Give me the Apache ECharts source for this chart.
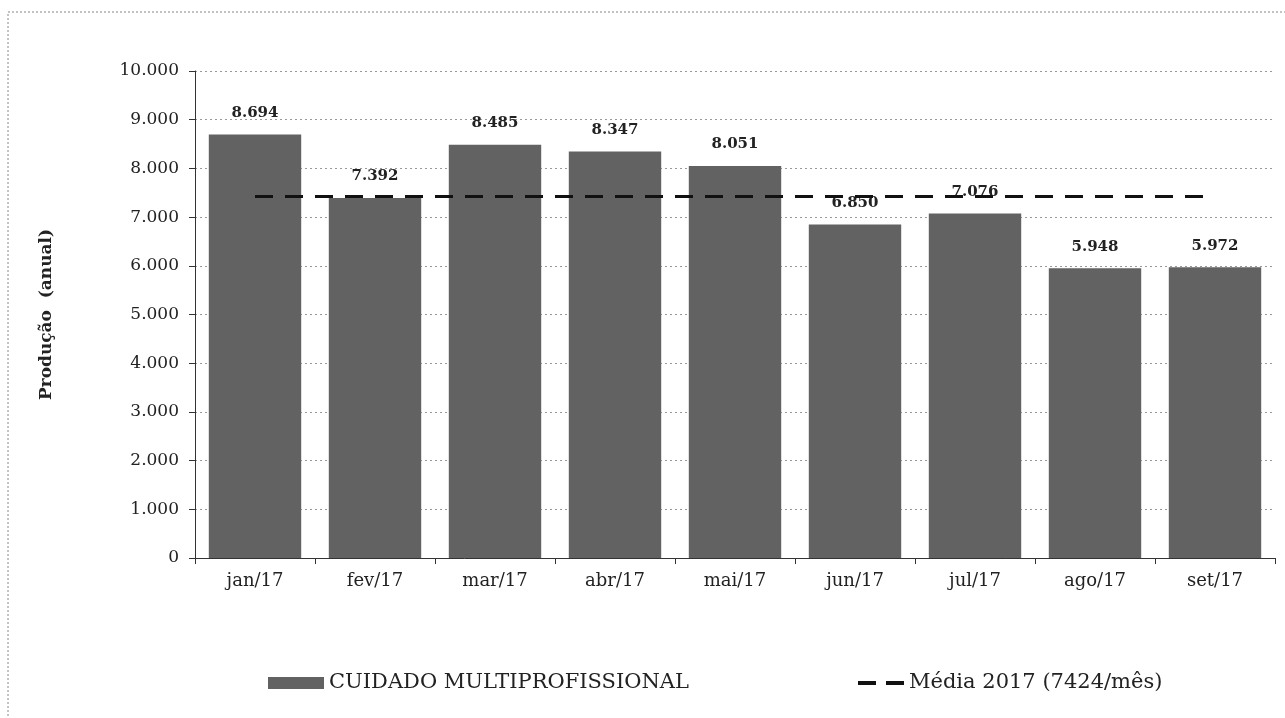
<!DOCTYPE html>
<html><head><meta charset="utf-8">
<script src="https://cdn.jsdelivr.net/npm/echarts@6/dist/echarts.min.js"></script>
<style>html,body{margin:0;padding:0;background:#fff}#c{width:1285px;height:718px}</style>
</head><body><div id="c"></div>
<script>
const categories = ['jan/17','fev/17','mar/17','abr/17','mai/17','jun/17','jul/17','ago/17','set/17'];
const producao = [8694, 7392, 8485, 8347, 8051, 6850, 7076, 5948, 5972];
const media = [7424, 7424, 7424, 7424, 7424, 7424, 7424, 7424, 7424];
const barName = 'CUIDADO MULTIPROFISSIONAL';
const lineName = 'Média 2017 (7424/mês)';
const yName = 'Produção  (anual)';

function fmt(v){ return String(v).replace(/\B(?=(\d{3})+(?!\d))/g, '.'); }
const serif = '"DejaVu Serif", "Liberation Serif", serif';
const chart = echarts.init(document.getElementById('c'));
chart.setOption({
  animation: false,
  backgroundColor: '#fff',
  textStyle: { fontFamily: serif },
  graphic: [{ type: 'rect', shape: { x: 8, y: 12, width: 1290, height: 730 }, style: { fill: 'none', stroke: '#888', lineWidth: 1, lineDash: [2, 2] }, silent: true }],
  grid: { left: 195, right: 10, top: 71, bottom: 160 },
  legend: [
    {
      top: 670, left: 268, itemWidth: 56, itemHeight: 12, itemGap: 8, padding: 0,
      textStyle: { fontFamily: serif, fontSize: 21, color: '#222', lineHeight: 26 },
      data: [{ name: barName, icon: 'rect' }]
    },
    {
      top: 670, left: 858, itemWidth: 46, itemHeight: 4, itemGap: 8, padding: 0,
      textStyle: { fontFamily: serif, fontSize: 21, color: '#222', lineHeight: 26 },
      data: [{ name: lineName, icon: 'path://M0,0H18V4H0Z M28,0H46V4H28Z' }]
    }
  ],
  xAxis: {
    type: 'category', data: categories,
    axisLine: { lineStyle: { color: '#333', width: 1 } },
    axisTick: { show: true, length: 6, lineStyle: { color: '#333' } },
    axisLabel: { fontFamily: serif, fontSize: 18, color: '#222', margin: 14 }
  },
  yAxis: {
    type: 'value', min: 0, max: 10000, interval: 1000,
    name: yName, nameLocation: 'middle', nameGap: 140, nameRotate: 90,
    nameTextStyle: { fontFamily: serif, fontSize: 17, fontWeight: 'bold', color: '#222' },
    axisLine: { show: true, lineStyle: { color: '#333' } },
    axisTick: { show: true, length: 6, lineStyle: { color: '#333' } },
    axisLabel: { fontFamily: serif, fontSize: 17, color: '#222', margin: 16, formatter: v => fmt(v) },
    splitLine: { lineStyle: { color: '#999', type: [2, 3] } }
  },
  series: [
    {
      name: barName, type: 'bar', data: producao, barCategoryGap: '23%',
      itemStyle: { color: '#626262' },
      label: { show: true, position: 'top', distance: 14, fontFamily: serif, fontSize: 15, fontWeight: 'bold', color: '#222', formatter: p => fmt(p.value) }
    },
    {
      name: lineName, type: 'line', data: media, symbol: 'none',
      lineStyle: { color: '#111', width: 3, type: [18, 12] },
      itemStyle: { color: '#111' }
    }
  ]
});
</script></body></html>
